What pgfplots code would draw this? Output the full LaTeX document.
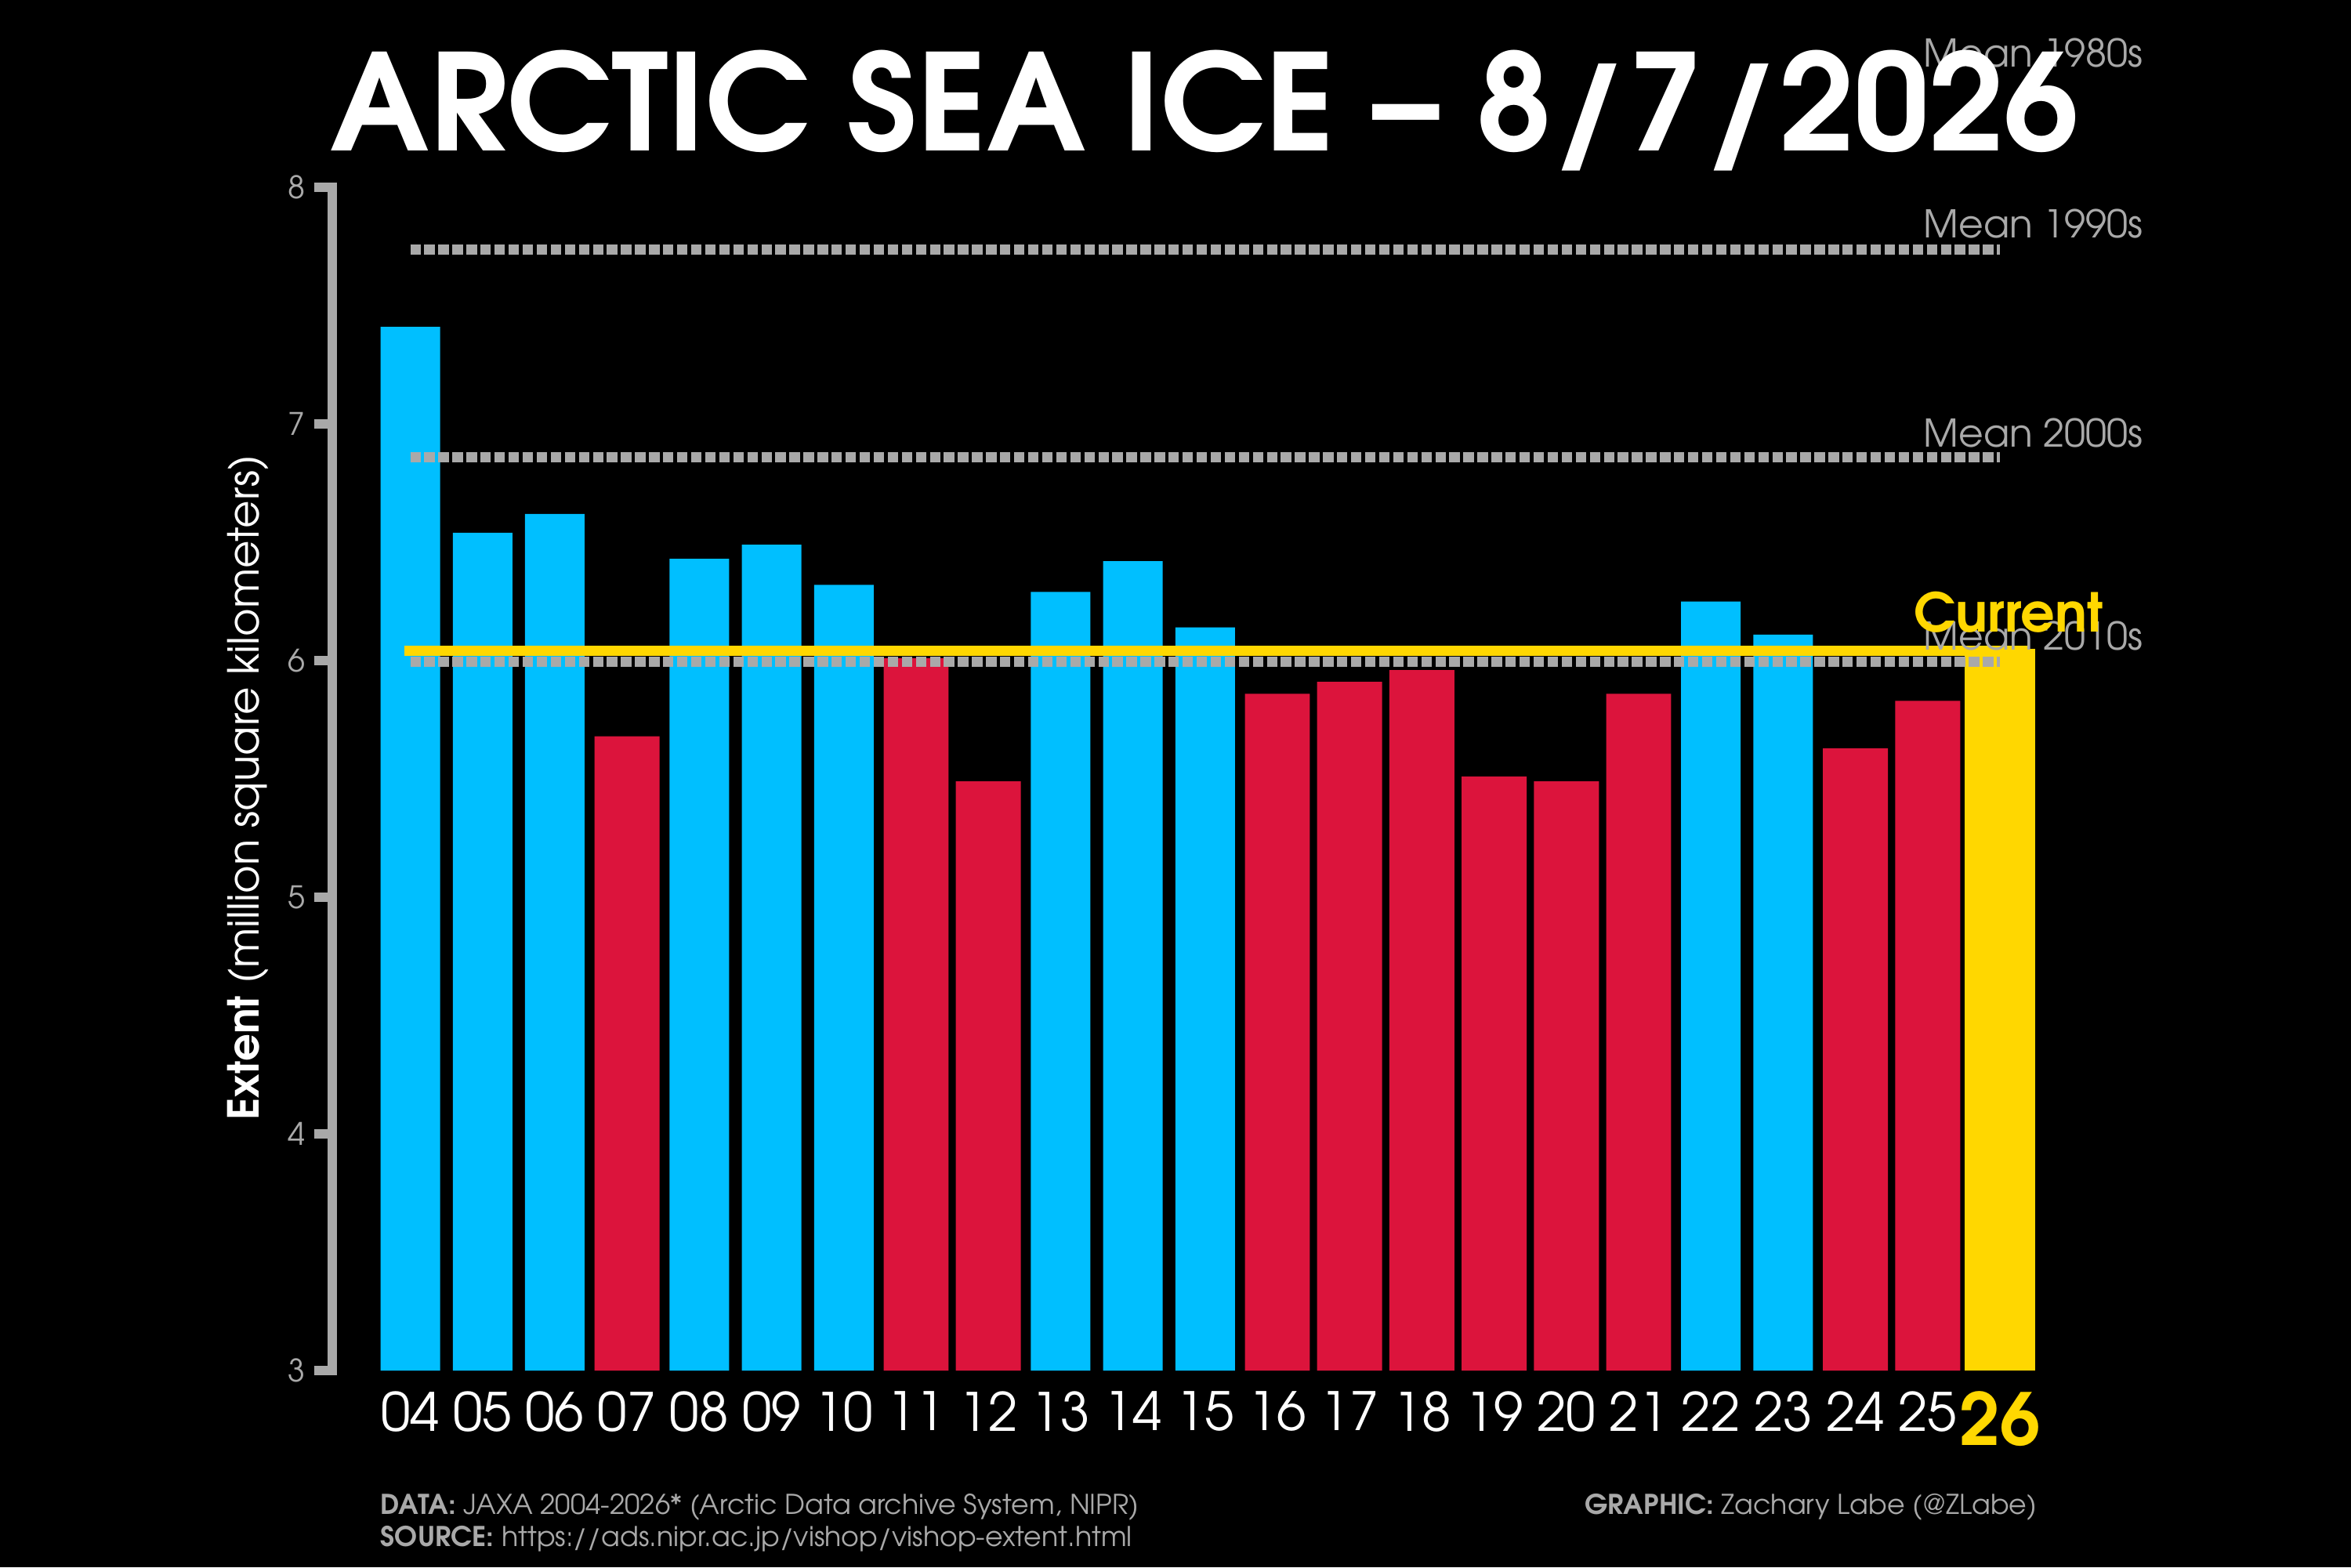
\documentclass[border=0pt]{standalone}
\usepackage{pgfplots}
\pgfplotsset{compat=1.18}
\usepackage{fontspec}
\setmainfont{TeX Gyre Adventor}
\definecolor{cblue}{RGB}{0,191,255}
\definecolor{cred}{RGB}{220,20,60}
\definecolor{cgold}{RGB}{255,215,0}
\definecolor{cgray}{RGB}{169,169,169}
\begin{document}
\begin{tikzpicture}
\fill[black] (0,0) rectangle (720pt,480pt);
\begin{axis}[
  at={(101.76pt,60.24pt)}, anchor=south west,
  x=22.128pt, y=72.48pt,
  xmin=-1.08, xmax=23, ymin=3, ymax=8,
  axis y line*=left, axis x line*=bottom,
  x axis line style={draw=none},
  y axis line style={-, line width=3.1pt, cgray, line cap=rect},
  ytick={3,4,5,6,7,8},
  tick align=outside, major tick length=5.64pt,
  ytick style={line width=3.1pt, cgray},
  xtick={0,...,22}, xtick style={draw=none},
  xticklabels={04,05,06,07,08,09,10,11,12,13,14,15,16,17,18,19,20,21,22,23,24,25,{\color{cgold}\fontsize{22}{22}\selectfont\bfseries 26}},
  yticklabel style={cgray, font=\fontsize{9.5}{9.5}\selectfont, inner sep=0pt, xshift=-2.4pt},
  xticklabel style={white, font=\fontsize{16.2}{16.2}\selectfont, inner sep=0pt, yshift=-0.6pt},
  /pgf/number format/assume math mode=true,
  clip mode=individual,
]
\addplot[ybar, bar width=18.24pt, bar shift=0pt, fill=cblue, draw=none] coordinates {
(0,7.41) (1,6.54) (2,6.62) (4,6.43) (5,6.49) (6,6.32) (9,6.29) (10,6.42) (11,6.14) (18,6.25) (19,6.11)};
\addplot[ybar, bar width=19.9pt, bar shift=0pt, fill=cred, draw=none] coordinates {
(3,5.68) (7,6.01) (8,5.49) (12,5.86) (13,5.91) (14,5.96) (15,5.51) (16,5.49) (17,5.86) (20,5.63) (21,5.83)};
\addplot[ybar, bar width=21.6pt, bar shift=0pt, fill=cgold, draw=none] coordinates {(22,6.05)};
\addplot[cgray, line width=3.1pt, dash pattern=on 3.2pt off 1.1pt] coordinates {(0,7.736) (22,7.736)};
\addplot[cgray, line width=3.1pt, dash pattern=on 3.2pt off 1.1pt] coordinates {(0,6.858) (22,6.858)};
\addplot[cgray, line width=3.1pt, dash pattern=on 3.2pt off 1.1pt] coordinates {(0,5.996) (22,5.996)};
\addplot[cgold, line width=3.1pt] coordinates {(-0.087,6.041) (22.4,6.041)};
\node[anchor=base east, cgray, font=\fontsize{11.7}{11.7}\selectfont, inner sep=0pt] at (axis cs:23.99,8.507) {Mean 1980s};
\node[anchor=base east, cgray, font=\fontsize{11.7}{11.7}\selectfont, inner sep=0pt] at (axis cs:23.99,7.788) {Mean 1990s};
\node[anchor=base east, cgray, font=\fontsize{11.7}{11.7}\selectfont, inner sep=0pt] at (axis cs:23.99,6.901) {Mean 2000s};
\node[anchor=base east, cgray, font=\fontsize{11.7}{11.7}\selectfont, inner sep=0pt] at (axis cs:23.99,6.045) {Mean 2010s};
\node[anchor=base east, cgold, font=\fontsize{16.4}{16.4}\selectfont\bfseries, inner sep=0pt] at (axis cs:23.44,6.121) {Current};
\end{axis}
\node[anchor=base, white, font=\fontsize{41}{41}\selectfont\bfseries, inner sep=0pt] at (369pt,433.7pt) {ARCTIC SEA ICE -- 8/7/2026};
\node[rotate=90, anchor=base, white, font=\fontsize{13.1}{13.1}\selectfont, inner sep=0pt] at (79.2pt,238.8pt) {\textbf{Extent} (million square kilometers)};
\node[anchor=base west, cgray, font=\fontsize{8.35}{8.35}\selectfont, inner sep=0pt] at (116.4pt,16.32pt) {\textbf{DATA:} JAXA 2004-2026* (Arctic Data archive System, NIPR)};
\node[anchor=base west, cgray, font=\fontsize{8.35}{8.35}\selectfont, inner sep=0pt] at (116.4pt,6.48pt) {\textbf{SOURCE:} https://ads.nipr.ac.jp/vishop/vishop-extent.html};
\node[anchor=base east, cgray, font=\fontsize{8.35}{8.35}\selectfont, inner sep=0pt] at (624pt,16.32pt) {\textbf{GRAPHIC:} Zachary Labe (@ZLabe)};
\pgfresetboundingbox
\useasboundingbox (0,0) rectangle (720pt,480pt);
\end{tikzpicture}
\end{document}
